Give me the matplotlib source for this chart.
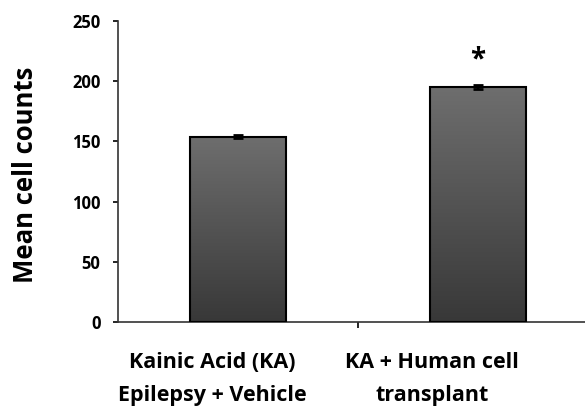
import numpy as np
import matplotlib
matplotlib.use("Agg")
import matplotlib.pyplot as plt
from matplotlib.colors import LinearSegmentedColormap
from matplotlib.transforms import ScaledTranslation

categories = ["Kainic Acid (KA)\nEpilepsy + Vehicle", "KA + Human cell\ntransplant"]
values = [154, 195]
errors = [1.5, 1.5]
yticks = [0, 50, 100, 150, 200, 250]

fig = plt.figure(figsize=(5.85, 4.09), dpi=100)
W, H = 585, 409
ax = fig.add_axes([118 / W, (H - 322) / H, (598 - 118) / W, (322 - 21) / H])

x = np.arange(len(categories))
bars = ax.bar(x, values, width=0.40, color="none", edgecolor="black", linewidth=1.5, zorder=3)
cmap = LinearSegmentedColormap.from_list("g", ["#383838", "#6e6e6e"])
grad = np.linspace(0, 1, 256).reshape(-1, 1)
for b in bars:
    x0, y0 = b.get_x(), b.get_y()
    w, h = b.get_width(), b.get_height()
    im = ax.imshow(grad, extent=[x0, x0 + w, y0, y0 + h], origin="lower",
                   cmap=cmap, aspect="auto", zorder=2)
    im.set_clip_path(b)
ax.errorbar(x, values, yerr=errors, fmt="none", ecolor="black", elinewidth=1.5,
            capsize=3.5, capthick=2, zorder=4)
ax.text(x[1], values[1] + 23, "*", ha="center", va="center", fontsize=20,
        fontweight="bold", family="Open Sans")

ax.set_xlim(-0.5, 1.5)
ax.set_ylim(0, 250)
ax.set_yticks(yticks)
ax.set_yticklabels([str(t) for t in yticks], fontsize=12, fontweight="bold", family="Open Sans")
ax.set_xticks([0.5])
ax.set_xticklabels([""])
ax.tick_params(axis="x", length=4, width=1.2, direction="out")
ax.tick_params(axis="y", length=3.6, width=1.2, direction="out", pad=9)
for s in ["top", "right"]:
    ax.spines[s].set_visible(False)
for s in ["left", "bottom"]:
    ax.spines[s].set_color("#333333")
    ax.spines[s].set_linewidth(1.2)

label_shift_px = [-26, -46]
for xi, lab, dx in zip(x, categories, label_shift_px):
    tr = ax.get_xaxis_transform() + ScaledTranslation(dx / 100, 0, fig.dpi_scale_trans)
    l1, l2 = lab.split("\n")
    ax.text(xi, -0.136, l1, transform=tr, ha="center", va="center",
            fontsize=15.5, fontweight="bold", family="Open Sans", clip_on=False)
    ax.text(xi, -0.243, l2, transform=tr, ha="center", va="center",
            fontsize=15.5, fontweight="bold", family="Open Sans", clip_on=False)

fig.text(26 / W, 1 - 175 / H, "Mean cell counts", rotation=90, ha="center", va="center",
         fontsize=18.5, fontweight="bold", family="Open Sans")

fig.savefig("out.png", dpi=100)
